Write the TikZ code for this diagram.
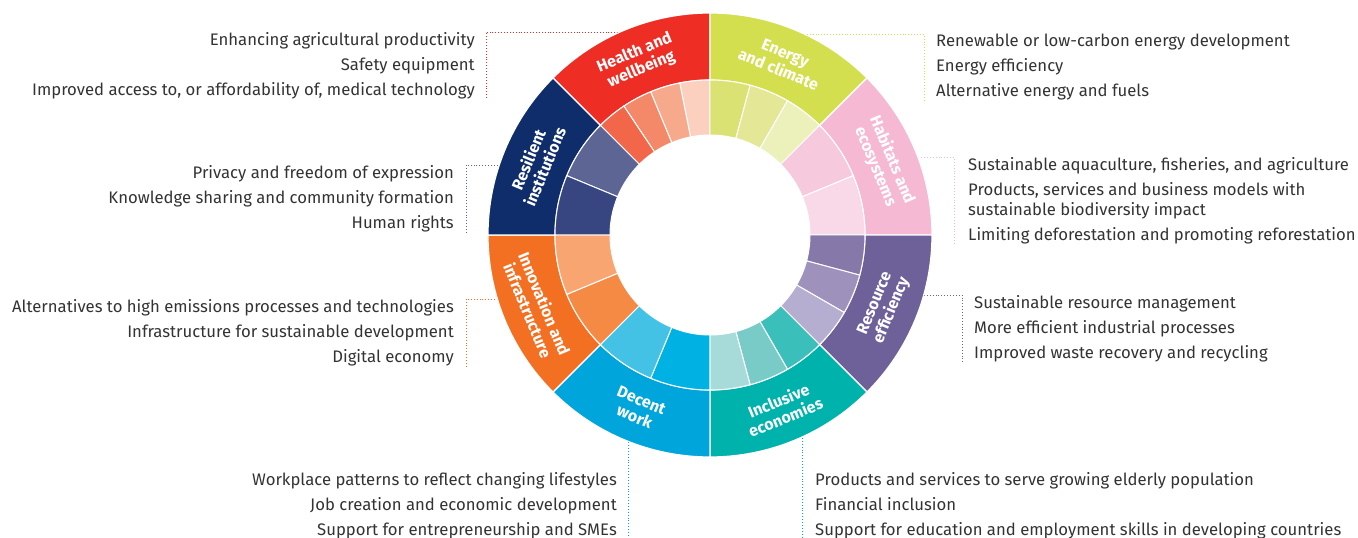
\documentclass[tikz,border=0pt]{standalone}
\usepackage{fontspec}
\setmainfont{Fira Sans}
\usetikzlibrary{calc}
\pgfdeclarelayer{background}
\pgfsetlayers{background,main}

\definecolor{txtgray}{HTML}{333333}
\definecolor{hwout}{HTML}{EE2D24}
\definecolor{ecout}{HTML}{D3DF4E}
\definecolor{heout}{HTML}{F5B9D3}
\definecolor{reout}{HTML}{6E6199}
\definecolor{icout}{HTML}{00B2AC}
\definecolor{dwout}{HTML}{00A5DB}
\definecolor{iiout}{HTML}{F37022}
\definecolor{riout}{HTML}{0F2D6B}

\begin{document}
\begin{tikzpicture}[x=1pt, y=1pt,
  item/.style={inner sep=0, text=txtgray, font=\fontsize{16.7}{25}\selectfont},
  lbl/.style={inner sep=0, align=center, text=white, font=\fontsize{16}{18}\selectfont\bfseries},
  leader/.style={dotted, line width=0.9pt}]

\useasboundingbox (-710,-303) rectangle (648,235);

% outer ring
\foreach \a/\b/\c in {90/135/hwout, 45/90/ecout, 0/45/heout, -45/0/reout,
    -90/-45/icout, -135/-90/dwout, -180/-135/iiout, 135/180/riout}
  \fill[\c, draw=white, line width=1.2pt] (\a:222) arc[start angle=\a, end angle=\b, radius=222]
    -- (\b:155) arc[start angle=\b, end angle=\a, radius=155] -- cycle;

% inner ring
\foreach \a/\b/\c in {90/101.25/FBD0BF, 101.25/112.5/F7A98B, 112.5/123.75/F4896A, 123.75/135/F26649,
    75/90/DBE274, 60/75/E4E896, 45/60/ECF0BB,
    22.5/45/F6C9DD, 0/22.5/F9D8E7,
    -15/0/8679AA, -30/-15/9E92BD, -45/-30/B6AED0,
    -60/-45/3BBFBA, -75/-60/79CBC8, -90/-75/A7DBDA,
    -112.5/-90/00B2E3, -135/-112.5/44C2E6,
    -157.5/-135/F58A45, -180/-157.5/F9A571,
    135/157.5/5D6595, 157.5/180/374680}
  {\definecolor{seg}{HTML}{\c}
  \fill[seg, draw=white, line width=1pt] (\a:155) arc[start angle=\a, end angle=\b, radius=155]
    -- (\b:100) arc[start angle=\b, end angle=\a, radius=100] -- cycle;}

% sector labels
\node[lbl, rotate=22.5] (hwlbl) at (112.5:188) {Health and\\wellbeing};
\node[lbl, rotate=-22.5] (eclbl) at (67.5:188) {Energy\\and climate};
\node[lbl, rotate=-67.5] (helbl) at (22.5:188) {Habitats and\\ecosystems};
\node[lbl, rotate=67.5] (relbl) at (-22.5:188) {Resource\\efficiency};
\node[lbl, rotate=22.5] (iclbl) at (-67.5:188) {Inclusive\\economies};
\node[lbl, rotate=-22.5] (dwlbl) at (-112.5:188) {Decent\\work};
\node[lbl, rotate=-67.5] (iilbl) at (-157.5:188) {Innovation and\\infrastructure};
\node[lbl, rotate=67.5] (rilbl) at (157.5:188) {Resilient\\institutions};

% themes
\node[item, align=right, anchor=north east] (hwtxt) at (-235,203)
  {Enhancing agricultural productivity\\Safety equipment\\Improved access to, or affordability of, medical technology};
\node[item, align=right, anchor=north east] (ritxt) at (-256,70)
  {Privacy and freedom of expression\\Knowledge sharing and community formation\\Human rights};
\node[item, align=right, anchor=north east] (iitxt) at (-256,-64)
  {Alternatives to high emissions processes and technologies\\Infrastructure for sustainable development\\Digital economy};
\node[item, align=right, anchor=north east] (dwtxt) at (-93,-237)
  {Workplace patterns to reflect changing lifestyles\\Job creation and economic development\\Support for entrepreneurship and SMEs};
\node[item, align=left, anchor=north west] (ectxt) at (226,201)
  {Renewable or low-carbon energy development\\Energy efficiency\\Alternative energy and fuels};
\node[item, align=left, anchor=north west] (hetxt) at (258,78)
  {Sustainable aquaculture, fisheries, and agriculture\\Products, services and business models with\\[-5pt]sustainable biodiversity impact\\Limiting deforestation and promoting reforestation};
\node[item, align=left, anchor=north west] (retxt) at (264,-60)
  {Sustainable resource management\\More efficient industrial processes\\Improved waste recovery and recycling};
\node[item, align=left, anchor=north west] (ictxt) at (105,-237)
  {Products and services to serve growing elderly population\\Financial inclusion\\Support for education and employment skills in developing countries};

% leaders
\coordinate (hwtop) at ([xshift=11pt]hwtxt.north east);
\coordinate (hwbot) at ([xshift=11pt]hwtxt.south east);
\coordinate (ritop) at ([xshift=12pt]ritxt.north east);
\coordinate (ribot) at ([xshift=12pt]ritxt.south east);
\coordinate (iitop) at ([xshift=12pt]iitxt.north east);
\coordinate (iibot) at ([xshift=12pt]iitxt.south east);
\coordinate (dwbot) at ([xshift=11pt]dwtxt.south east);
\coordinate (ectop) at ([xshift=-12pt]ectxt.north west);
\coordinate (ecbot) at ([xshift=-12pt]ectxt.south west);
\coordinate (hetop) at ([xshift=-14pt]hetxt.north west);
\coordinate (hebot) at ([xshift=-14pt]hetxt.south west);
\coordinate (retop) at ([xshift=-12pt]retxt.north west);
\coordinate (rebot) at ([xshift=-12pt]retxt.south west);
\coordinate (icbot) at ([xshift=-13pt]ictxt.south west);
\begin{pgfonlayer}{background}
\draw[leader, hwout] (hwlbl.center) |- (hwtop) -- (hwbot);
\draw[leader, riout!70] (rilbl.center) |- (ritop) -- (ribot);
\draw[leader, iiout] (iilbl.center) |- (iitop) -- (iibot);
\draw[leader, dwout] (dwlbl.center) -| (dwbot);
\draw[leader, ecout] (eclbl.center) |- (ectop) -- (ecbot);
\draw[leader, heout] (helbl.center) |- (hetop) -- (hebot);
\draw[leader, reout] (relbl.center) |- (retop) -- (rebot);
\draw[leader, icout] (iclbl.center) -| (icbot);
\end{pgfonlayer}
\end{tikzpicture}
\end{document}
